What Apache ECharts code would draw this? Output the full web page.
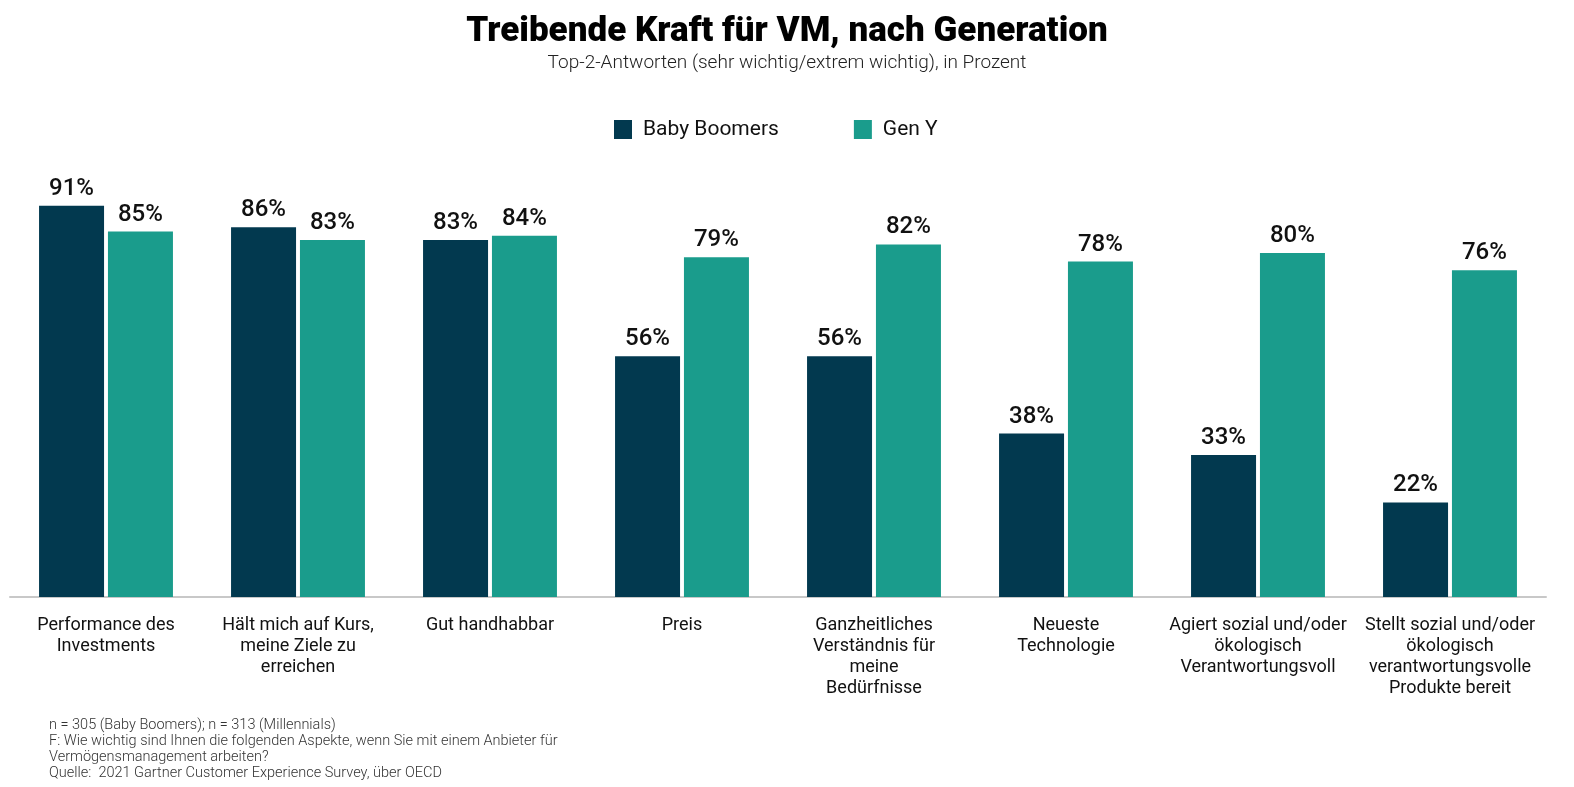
<!DOCTYPE html>
<html>
<head>
<meta charset="utf-8">
<script src="https://cdn.jsdelivr.net/npm/echarts@6/dist/echarts.min.js"></script>
<style>
    html, body { margin: 0; padding: 0; background: #fff; }
    #chart { width: 1574px; height: 787px; }
</style>
</head>
<body>
<div id="chart"></div>
<script>
// Kategorien (Zeilenumbrüche wie im Original)
var categories = [
    'Performance des\nInvestments',
    'Hält mich auf Kurs,\nmeine Ziele zu\nerreichen',
    'Gut handhabbar',
    'Preis',
    'Ganzheitliches\nVerständnis für\nmeine\nBedürfnisse',
    'Neueste\nTechnologie',
    'Agiert sozial und/oder\nökologisch\nVerantwortungsvoll',
    'Stellt sozial und/oder\nökologisch\nverantwortungsvolle\nProdukte bereit'
];
var seriesNames = ['Baby Boomers', 'Gen Y'];
var babyBoomers = [91, 86, 83, 56, 56, 38, 33, 22];
var genY = [85, 83, 84, 79, 82, 78, 80, 76];

var footnoteLines = [
    'n = 305 (Baby Boomers); n = 313 (Millennials)',
    'F: Wie wichtig sind Ihnen die folgenden Aspekte, wenn Sie mit einem Anbieter für',
    'Vermögensmanagement arbeiten?',
    'Quelle:  2021 Gartner Customer Experience Survey, über OECD'
];

var colors = ['#02394f', '#1a9c8c'];

var myChart = echarts.init(document.getElementById('chart'));

var valueLabel = {
    show: true,
    position: 'top',
    distance: 5,
    formatter: '{c}%',
    fontFamily: 'Roboto',
    fontSize: 24,
    fontWeight: 500,
    color: '#111'
};

var option = {
    animation: false,
    color: colors,
    textStyle: { fontFamily: 'Roboto' },
    title: [{
        text: 'Treibende Kraft für VM, nach Generation',
        left: 'center',
        top: 10,
        textStyle: { fontFamily: 'Roboto', fontSize: 35, fontWeight: 900, color: '#000' }
    }, {
        text: 'Top-2-Antworten (sehr wichtig/extrem wichtig), in Prozent',
        left: 'center',
        top: 49,
        textStyle: { fontFamily: 'Roboto', fontSize: 19, fontWeight: 300, color: '#222' }
    }, {
        text: footnoteLines.join('\n'),
        left: 44,
        top: 712,
        textStyle: { fontFamily: 'Roboto', fontSize: 14.5, fontWeight: 300, color: '#333', lineHeight: 16 }
    }],
    legend: {
        data: seriesNames,
        top: 114,
        left: 609,
        itemWidth: 18,
        itemHeight: 19,
        itemGap: 75,
        icon: 'rect',
        textStyle: { fontFamily: 'Roboto', fontSize: 21, color: '#111', padding: [0, 0, 0, 6] }
    },
    grid: {
        left: 10,
        right: 28,
        top: 167,
        bottom: 190
    },
    xAxis: {
        type: 'category',
        data: categories,
        axisTick: { show: false },
        axisLine: { lineStyle: { color: '#c8c8c8', width: 2 } },
        axisLabel: {
            interval: 0,
            margin: 18,
            fontFamily: 'Roboto',
            fontSize: 18,
            lineHeight: 21,
            color: '#111',
            align: 'center'
        }
    },
    yAxis: {
        type: 'value',
        min: 0,
        max: 100,
        show: false
    },
    series: [{
        name: seriesNames[0],
        type: 'bar',
        barWidth: 65,
        barGap: '6%',
        data: babyBoomers,
        label: valueLabel
    }, {
        name: seriesNames[1],
        type: 'bar',
        barWidth: 65,
        barGap: '6%',
        data: genY,
        label: valueLabel
    }]
};

myChart.setOption(option);
</script>
</body>
</html>
